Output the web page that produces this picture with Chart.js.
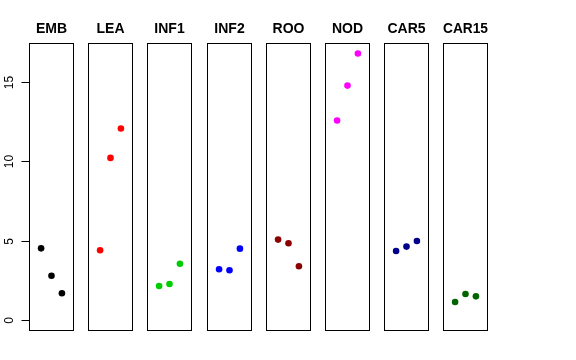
<!DOCTYPE html>
<html>
<head>
<meta charset="utf-8">
<script src="https://cdn.jsdelivr.net/npm/chart.js@4"></script>
<style>
  html, body { margin: 0; padding: 0; background: #fff; }
  #wrap { position: relative; width: 576px; height: 360px; background: #fff; overflow: hidden; }
  #wrap canvas { position: absolute; top: 0; }
</style>
</head>
<body>
<div id="wrap"></div>
<script>
// ---- data ----
const categories = ['EMB', 'LEA', 'INF1', 'INF2', 'ROO', 'NOD', 'CAR5', 'CAR15'];
const positions = [1, 2, 3];
const EMB   = [4.53, 2.81, 1.70];
const LEA   = [4.41, 10.22, 12.07];
const INF1  = [2.16, 2.29, 3.56];
const INF2  = [3.21, 3.15, 4.51];
const ROO   = [5.08, 4.85, 3.40];
const NOD   = [12.57, 14.77, 16.79];
const CAR5  = [4.36, 4.64, 4.99];
const CAR15 = [1.15, 1.66, 1.51];
const seriesValues = [EMB, LEA, INF1, INF2, ROO, NOD, CAR5, CAR15];
const colors = ['#000000', '#FF0000', '#00CD00', '#0000FF', '#8B0000', '#FF00FF', '#00008B', '#006400'];
const yTicks = [0, 5, 10, 15];

// ---- layout ----
const panelLefts = [29, 88, 147, 207, 266, 325, 384, 443];
const panelWidth = 45;
const canvasHeight = 331;
const yMin = -0.671, yMax = 17.45;
const xMin = -0.16, xMax = 4.16;
const FONT = '"Liberation Sans", Arial, Helvetica, sans-serif';

const borderPlugin = {
  id: 'panelBorder',
  afterDraw(chart) {
    const a = chart.chartArea;
    const ctx = chart.ctx;
    ctx.save();
    ctx.strokeStyle = '#000';
    ctx.lineWidth = 1;
    ctx.strokeRect(Math.round(a.left) + 0.5, Math.round(a.top) + 0.5,
                   Math.round(a.right - a.left) - 1, Math.round(a.bottom - a.top) - 1);
    ctx.restore();
  }
};

const yAxisPlugin = {
  id: 'rAxis',
  afterDraw(chart) {
    const ys = chart.scales.y;
    const a = chart.chartArea;
    const ctx = chart.ctx;
    const x0 = Math.round(a.left) + 0.5;
    ctx.save();
    ctx.strokeStyle = '#000';
    ctx.lineWidth = 1;
    ctx.beginPath();
    ctx.moveTo(x0, Math.round(ys.getPixelForValue(yTicks[0])) + 0.5);
    ctx.lineTo(x0, Math.round(ys.getPixelForValue(yTicks[yTicks.length - 1])) + 0.5);
    ctx.stroke();
    ctx.fillStyle = '#000';
    ctx.font = '12px ' + FONT;
    ctx.textAlign = 'center';
    ctx.textBaseline = 'middle';
    yTicks.forEach(t => {
      const py = Math.round(ys.getPixelForValue(t)) + 0.5;
      ctx.beginPath();
      ctx.moveTo(x0 - 8, py);
      ctx.lineTo(x0, py);
      ctx.stroke();
      ctx.save();
      ctx.translate(9.5, py);
      ctx.rotate(-Math.PI / 2);
      ctx.fillText(String(t), 0, 0);
      ctx.restore();
    });
    ctx.restore();
  }
};

const wrap = document.getElementById('wrap');
categories.forEach((cat, i) => {
  const c = document.createElement('canvas');
  const padLeft = i === 0 ? panelLefts[0] : 0;
  const w = panelWidth + padLeft;
  c.width = w;
  c.height = canvasHeight;
  c.style.width = w + 'px';
  c.style.height = canvasHeight + 'px';
  c.style.left = (i === 0 ? 0 : panelLefts[i]) + 'px';
  wrap.appendChild(c);
  const vals = seriesValues[i];
  new Chart(c.getContext('2d'), {
    type: 'scatter',
    data: {
      datasets: [{
        data: positions.map((p, k) => ({ x: p, y: vals[k] })),
        backgroundColor: colors[i],
        borderWidth: 0,
        pointRadius: 3.3,
        pointHoverRadius: 3.3
      }]
    },
    options: {
      responsive: false,
      devicePixelRatio: 1,
      animation: false,
      events: [],
      layout: { autoPadding: false, padding: { left: padLeft, right: 0, top: 0, bottom: 0 } },
      plugins: {
        legend: { display: false },
        tooltip: { enabled: false },
        title: {
          display: true,
          text: cat,
          color: '#000',
          font: { family: FONT, size: 14, weight: 'bold', lineHeight: 1.2 },
          padding: { top: 21, bottom: 5.2 }
        }
      },
      scales: {
        x: { type: 'linear', min: xMin, max: xMax, display: false },
        y: { type: 'linear', min: yMin, max: yMax, display: false }
      }
    },
    plugins: i === 0 ? [borderPlugin, yAxisPlugin] : [borderPlugin]
  });
});
</script>
</body>
</html>
